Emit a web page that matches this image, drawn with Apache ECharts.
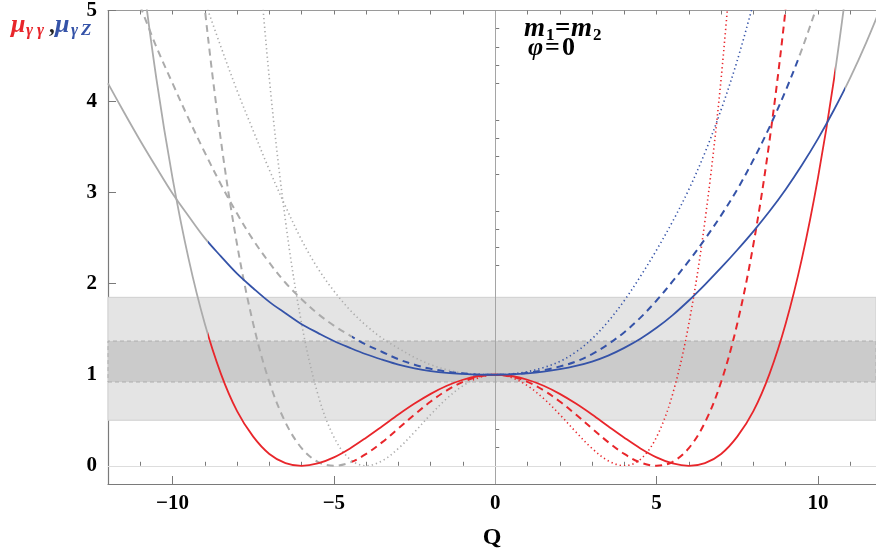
<!DOCTYPE html>
<html><head><meta charset="utf-8">
<script src="https://cdn.jsdelivr.net/npm/echarts@6/dist/echarts.min.js"></script>
<style>html,body{margin:0;padding:0;background:#fff}#c{width:876px;height:555px}</style>
</head><body><div id="c"></div>
<script>
// Q grid (x values)
const qGrid = [-12,-11.5,-11,-10.5,-10,-9.5,-9,-8.5,-8,-7.5,-7,-6.5,-6,-5.5,-5,-4.5,-4,-3.5,-3,-2.5,-2,-1.5,-1,-0.5,0,
  0.5,1,1.5,2,2.5,3,3.5,4,4.5,5,5.5,6,6.5,7,7.5,8,8.5,9,9.5,10,10.5,11,11.5,12];
// mu_gamma gamma (red), three cases: solid, dashed, dotted
const redSolid = [null,null,5.57,4.25,3.16,2.27,1.56,1.01,0.60,0.32,0.13,0.03,0,0.026,0.093,0.191,0.309,0.435,0.563,0.683,0.790,0.879,0.945,0.986,1,
  0.986,0.945,0.879,0.790,0.683,0.563,0.435,0.309,0.191,0.093,0.026,0,0.03,0.13,0.32,0.60,1.01,1.56,2.27,3.16,4.25,5.57,null,null];
const redDashed = [null,null,null,null,null,6.81,5.02,3.57,2.43,1.56,0.92,0.476,0.194,0.044,0,0.036,0.13,0.26,0.41,0.563,0.706,0.828,0.922,0.98,1,
  0.98,0.922,0.828,0.706,0.563,0.41,0.26,0.13,0.036,0,0.044,0.194,0.476,0.92,1.56,2.43,3.57,5.02,6.81,null,null,null,null,null];
const redDotted = [null,null,null,null,null,null,null,null,null,6.33,4.25,2.69,1.56,0.79,0.316,0.071,0,0.055,0.191,0.371,0.563,0.739,0.879,0.969,1,
  0.969,0.879,0.739,0.563,0.371,0.191,0.055,0,0.071,0.316,0.79,1.56,2.69,4.25,6.33,null,null,null,null,null,null,null,null,null];
// mu_gamma Z (blue)
const blueSolid = [4.2,3.88,3.57,3.275,2.99,2.74,2.5,2.3,2.11,1.95,1.8,1.675,1.555,1.46,1.37,1.295,1.225,1.165,1.11,1.07,1.04,1.02,1.009,1.002,1,
  1.004,1.015,1.034,1.061,1.097,1.145,1.21,1.295,1.395,1.515,1.655,1.815,1.99,2.175,2.37,2.575,2.795,3.035,3.3,3.59,3.91,4.26,4.65,5.08];
const blueDashed = [null,null,5.05,4.6,4.2,3.81,3.44,3.09,2.77,2.48,2.23,2.01,1.83,1.67,1.54,1.43,1.33,1.25,1.17,1.11,1.065,1.035,1.015,1.0,1,
  1.005,1.022,1.05,1.09,1.145,1.227,1.335,1.467,1.627,1.815,2.027,2.25,2.49,2.75,3.035,3.36,3.72,4.12,4.57,5.08,null,null,null,null];
const blueDotted = [null,null,null,null,null,null,5.1,4.6,4.12,3.68,3.25,2.85,2.48,2.17,1.92,1.71,1.54,1.4,1.29,1.19,1.11,1.055,1.02,1.005,1,
  1.009,1.034,1.079,1.145,1.25,1.395,1.585,1.815,2.08,2.37,2.685,3.035,3.44,3.91,4.45,5.08,null,null,null,null,null,null,null,null];
// Q ranges where each curve is drawn in colour (grey outside)
const colouredRange = {
  redSolid: [-8.9, 10.53], blueSolid: [-8.9, 10.85],
  redDashed: [-4.45, 99], blueDashed: [-4.45, 9.41],
  redDotted: [-0.7, 99], blueDotted: [-0.7, 99]
};
// bands
const bandOuter = [0.5, 1.85];
const bandInner = [0.92, 1.37];
// ticks
const xMajor = [-10,-5,0,5,10];
const xMinor = [-11,-9,-8,-7,-6,-4,-3,-2,-1,1,2,3,4,6,7,8,9,11];
const xTop = [-11,-10,-9,-8,-7,-6,-5,-4,-3,-2,-1,0,1,2,3,4,5,6,7,8,9,10,11];
const yMajor = [0,1,2,3,4,5];
const yMinor = [0.2,0.4,0.6,0.8,1.2,1.4,1.6,1.8,2.2,2.4,2.6,2.8,3.2,3.4,3.6,3.8,4.2,4.4,4.6,4.8];

const RED = '#e8262b', BLUE = '#3553a8', GRAY = '#ababab';
const SERIF = '"Liberation Serif","DejaVu Serif",serif';
const X_MIN = -12, X_MAX = 11.8;
const pts = arr => qGrid.map((q, i) => [q, arr[i]]);

const chart = echarts.init(document.getElementById('c'), null, {renderer: 'canvas'});
const tickStyle = {color: '#7a7a7a', width: 1};
const lbl = {fontFamily: SERIF, fontWeight: 'bold', fontSize: 21, color: '#000'};
function curve(data, color, type, width, z) {
  return {type: 'line', data: pts(data), showSymbol: false, symbol: 'none', smooth: 0.35, z: z,
    lineStyle: {width: width, type: type, color: color}, silent: true, animation: false};
}
const option = {
  animation: false,
  backgroundColor: '#fff',
  grid: {left: 108, top: 7, right: 0, bottom: 70, containLabel: false},
  xAxis: [
    {type: 'value', min: X_MIN, max: X_MAX, position: 'bottom',
     axisLine: {show: true, onZero: false, lineStyle: {color: '#7a7a7a', width: 1.2}},
     axisTick: {show: true, inside: true, length: 8, customValues: xMajor, lineStyle: tickStyle},
     axisLabel: {show: true, customValues: xMajor, margin: 9, ...lbl,
       formatter: v => v < 0 ? '\u2212' + (-v) : String(v)},
     splitLine: {show: false},
     name: 'Q', nameLocation: 'middle', nameGap: 42,
     nameTextStyle: {fontFamily: SERIF, fontWeight: 'bold', fontSize: 24, color: '#000'}},
    {type: 'value', min: X_MIN, max: X_MAX, position: 'bottom',
     axisLine: {show: false}, axisLabel: {show: false}, splitLine: {show: false},
     axisTick: {show: true, inside: true, length: 4, customValues: xMinor, lineStyle: tickStyle}},
    {type: 'value', min: X_MIN, max: X_MAX, position: 'top',
     axisLine: {show: true, onZero: false, lineStyle: {color: '#9a9a9a', width: 1}},
     axisLabel: {show: false}, splitLine: {show: false},
     axisTick: {show: true, inside: true, length: 4, customValues: xTop, lineStyle: tickStyle}}
  ],
  yAxis: [
    {type: 'value', min: -0.2, max: 5, position: 'left',
     axisLine: {show: true, onZero: false, lineStyle: {color: '#7a7a7a', width: 1.2}},
     axisTick: {show: true, inside: true, length: 8, customValues: yMajor, lineStyle: tickStyle},
     axisLabel: {show: true, customValues: yMajor, margin: 11, ...lbl},
     splitLine: {show: false}},
    {type: 'value', min: -0.2, max: 5, position: 'left',
     axisLine: {show: false}, axisLabel: {show: false}, splitLine: {show: false},
     axisTick: {show: true, inside: true, length: 4, customValues: yMinor, lineStyle: tickStyle}}
  ],
  series: [
    {type: 'line', data: [], z: 1, silent: true,
     markArea: {silent: true, label: {show: false},
       data: [
         [{yAxis: bandOuter[0], itemStyle: {color: '#e4e4e4', borderColor: '#cfcfcf', borderWidth: 1}}, {yAxis: bandOuter[1]}],
         [{yAxis: bandInner[0], itemStyle: {color: '#cbcbcb', borderColor: '#adadad', borderWidth: 1, borderType: [4, 3]}}, {yAxis: bandInner[1]}]
       ]}},
    {type: 'line', data: [], z: 2, silent: true,
     markLine: {silent: true, symbol: 'none', label: {show: false}, animation: false,
       data: [
         {xAxis: 0, lineStyle: {color: '#a5a5a5', width: 1, type: 'solid'}},
         {yAxis: 0, lineStyle: {color: '#dddddd', width: 1, type: 'solid'}}
       ]}},
    curve(redSolid, RED, 'solid', 1.8, 6),
    curve(blueSolid, BLUE, 'solid', 1.8, 6),
    curve(redDashed, RED, [7, 5], 2, 5),
    curve(blueDashed, BLUE, [7, 5], 2, 5),
    curve(redDotted, RED, [1.3, 3], 1.6, 4),
    curve(blueDotted, BLUE, [1.3, 3], 1.6, 4)
  ],
  graphic: [
    {type: 'text', left: 11, top: 12, style: {text: 'μ', font: 'italic bold 26px ' + SERIF, fill: RED}},
    {type: 'text', left: 26, top: 22, style: {text: 'γ', font: 'italic bold 17px ' + SERIF, fill: RED}},
    {type: 'text', left: 37, top: 22, style: {text: 'γ', font: 'italic bold 17px ' + SERIF, fill: RED}},
    {type: 'text', left: 49, top: 15, style: {text: ',', font: 'bold 23px ' + SERIF, fill: '#222'}},
    {type: 'text', left: 55, top: 12, style: {text: 'μ', font: 'italic bold 26px ' + SERIF, fill: BLUE}},
    {type: 'text', left: 71, top: 22, style: {text: 'γ', font: 'italic bold 17px ' + SERIF, fill: BLUE}},
    {type: 'text', left: 81, top: 22, style: {text: 'Z', font: 'italic bold 17px ' + SERIF, fill: BLUE}},
    {type: 'text', left: 524, top: 16, style: {text: 'm', font: 'italic bold 27px ' + SERIF, fill: '#000'}},
    {type: 'text', left: 546, top: 27, style: {text: '1', font: 'bold 17px ' + SERIF, fill: '#000'}},
    {type: 'text', left: 555, top: 16, style: {text: '=', font: 'bold 27px ' + SERIF, fill: '#000'}},
    {type: 'text', left: 571, top: 16, style: {text: 'm', font: 'italic bold 27px ' + SERIF, fill: '#000'}},
    {type: 'text', left: 593, top: 27, style: {text: '2', font: 'bold 17px ' + SERIF, fill: '#000'}},
    {type: 'text', left: 528, top: 35, style: {text: 'φ', font: 'italic bold 26px ' + SERIF, fill: '#000'}},
    {type: 'text', left: 545, top: 35, style: {text: '=', font: 'bold 26px ' + SERIF, fill: '#000'}},
    {type: 'text', left: 562, top: 35, style: {text: '0', font: 'bold 26px ' + SERIF, fill: '#000'}}
  ]
};
chart.setOption(option);

// colour each curve by Q range: sharp-stop horizontal gradient placed with the axis scale
const W = chart.getWidth();
function rangeGradient(range, color) {
  const px = v => Math.min(1, Math.max(0, chart.convertToPixel({xAxisIndex: 0}, Math.max(X_MIN, Math.min(X_MAX, v))) / W));
  const a = px(range[0]), b = px(range[1]);
  return new echarts.graphic.LinearGradient(0, 0, W, 0, [
    {offset: 0, color: GRAY}, {offset: a, color: GRAY}, {offset: a, color: color},
    {offset: b, color: color}, {offset: b, color: GRAY}, {offset: 1, color: GRAY}
  ], true);
}
chart.setOption({series: [
  {}, {},
  {lineStyle: {color: rangeGradient(colouredRange.redSolid, RED)}},
  {lineStyle: {color: rangeGradient(colouredRange.blueSolid, BLUE)}},
  {lineStyle: {color: rangeGradient(colouredRange.redDashed, RED)}},
  {lineStyle: {color: rangeGradient(colouredRange.blueDashed, BLUE)}},
  {lineStyle: {color: rangeGradient(colouredRange.redDotted, RED)}},
  {lineStyle: {color: rangeGradient(colouredRange.blueDotted, BLUE)}}
]});
</script></body></html>
